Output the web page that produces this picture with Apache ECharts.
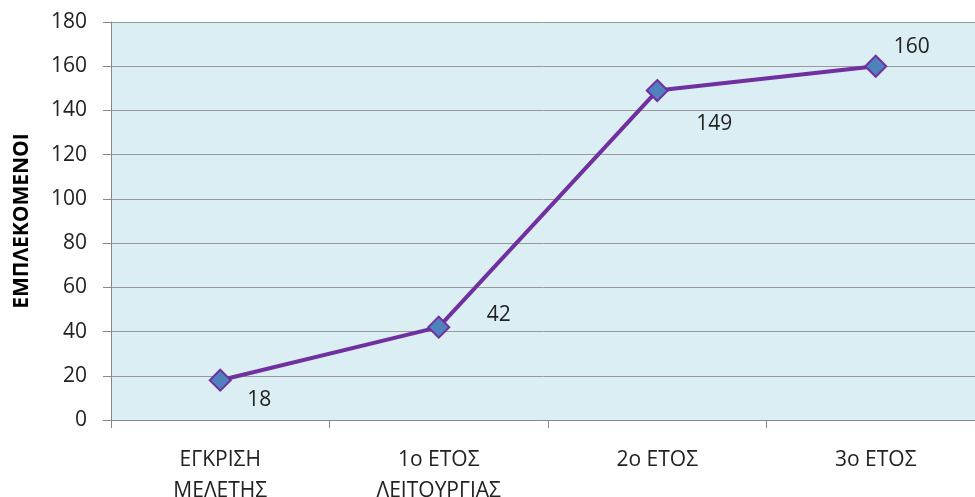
<!DOCTYPE html>
<html><head><meta charset="utf-8">
<script src="https://cdn.jsdelivr.net/npm/echarts@6/dist/echarts.min.js"></script>
<style>html,body{margin:0;padding:0;background:#fff}#c{width:975px;height:497px}</style>
</head><body><div id="c"></div>
<script>
const categories = ['ΕΓΚΡΙΣΗ\nΜΕΛΕΤΗΣ', '1ο ΕΤΟΣ\nΛΕΙΤΟΥΡΓΙΑΣ', '2ο ΕΤΟΣ', '3ο ΕΤΟΣ'];
const values = [18, 42, 149, 160];
const labelOffsets = [[39, 20], [60, -12], [57, 33], [36, -19]];
const yTitle = 'ΕΜΠΛΕΚΟΜΕΝΟΙ';
const FONT = 'Open Sans';
const chart = echarts.init(document.getElementById('c'));
chart.setOption({
  animation: false,
  grid: { left: 111, top: 22, width: 874, height: 398, containLabel: false, outerBoundsMode: 'none',
          show: true, backgroundColor: '#DBEEF4', borderWidth: 0 },
  xAxis: {
    type: 'category', data: categories, boundaryGap: true,
    axisLine: { lineStyle: { color: '#888', width: 1 } },
    axisTick: { show: true, length: 8, lineStyle: { color: '#888' } },
    axisLabel: { color: '#222', fontFamily: FONT, fontSize: 21, lineHeight: 31, margin: 25 },
    splitLine: { show: false }
  },
  yAxis: {
    type: 'value', min: 0, max: 180, interval: 20,
    name: yTitle, nameLocation: 'middle', nameGap: 78, nameRotate: 90,
    nameTextStyle: { fontFamily: FONT, fontWeight: 'bold', fontSize: 21, color: '#000' },
    axisLine: { show: true, lineStyle: { color: '#888', width: 1 } },
    axisTick: { show: true, length: 8, lineStyle: { color: '#888' } },
    axisLabel: { color: '#222', fontFamily: FONT, fontSize: 21, margin: 24 },
    splitLine: { lineStyle: { color: '#999', width: 1 } }
  },
  series: [{
    type: 'line',
    data: values.map((v, i) => ({ value: v, label: { offset: labelOffsets[i] } })),
    lineStyle: { color: '#7030A0', width: 4 },
    symbol: 'diamond', symbolSize: 21,
    itemStyle: { color: '#4F81BD', borderColor: '#7030A0', borderWidth: 2 },
    label: { show: true, position: 'inside', color: '#222', fontFamily: FONT, fontSize: 21 }
  }]
});
</script></body></html>
